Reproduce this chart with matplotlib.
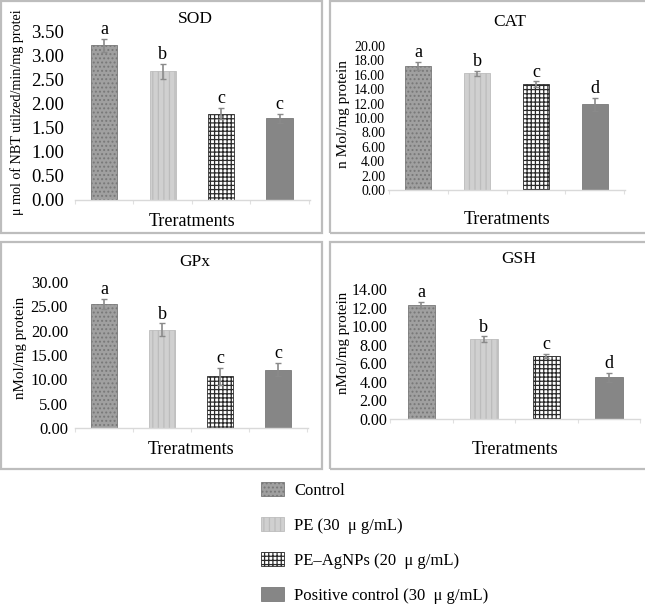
import matplotlib
matplotlib.use("Agg")
import matplotlib.pyplot as plt
from matplotlib.patches import Patch, Rectangle

plt.rcParams['font.family'] = ['Liberation Serif', 'DejaVu Serif']
plt.rcParams['hatch.linewidth'] = 0.9

treatments = ["Control", "PE (30  \u03bc g/mL)", "PE\u2013AgNPs (20  \u03bc g/mL)",
              "Positive control (30  \u03bc g/mL)"]

sod = [3.22, 2.68, 1.80, 1.70]
sod_err = [0.13, 0.16, 0.12, 0.09]
sod_letters = ["a", "b", "c", "c"]

cat = [17.2, 16.2, 14.7, 11.9]
cat_err = [0.6, 0.3, 0.4, 0.9]
cat_letters = ["a", "b", "c", "d"]

gpx = [25.5, 20.2, 10.6, 12.0]
gpx_err = [1.0, 1.3, 1.8, 1.4]
gpx_letters = ["a", "b", "c", "c"]

gsh = [12.3, 8.6, 6.8, 4.5]
gsh_err = [0.3, 0.3, 0.2, 0.5]
gsh_letters = ["a", "b", "c", "d"]

W, H = 645, 608
fig = plt.figure(figsize=(W / 100, H / 100), dpi=100)

face = ['#a0a0a0', '#d0d0d0', '#ffffff', '#868686']
edge = ['#787878', '#bcbcbc', '#2a2a2a', '#7a7a7a']
hatch = ['....', '|||', '++++', '']


def px_axes(l, t, r, b):
    return fig.add_axes([l / W, 1 - b / H, (r - l) / W, (b - t) / H])


def frame(l, t, r, b):
    fig.patches.append(Rectangle((l / W, 1 - b / H), (r - l) / W, (b - t) / H,
                                 transform=fig.transFigure, fill=False,
                                 edgecolor='#bdbdbd', linewidth=1.6))


frame(1, 1, 322, 233)
frame(330, 1, 648, 233)
frame(1, 242, 322, 469)
frame(330, 242, 648, 469)


def panel(rect, vals, errs, letters, title, ylabel, ymax, step, xlim, width,
          tickfs, tickpad, labfs, ylab_x, ylab_y, title_y, xlab_y, letfs,
          fmt="{:.2f}"):
    ax = px_axes(*rect)
    x = list(range(len(vals)))
    for i in x:
        ax.bar(i, vals[i], width=width, color=face[i], edgecolor=edge[i],
               hatch=hatch[i], linewidth=0.6, zorder=2)
    ax.errorbar(x, vals, yerr=errs, fmt='none', ecolor='#8a8a8a',
                elinewidth=1.2, capsize=2, capthick=1, zorder=3)
    for i in x:
        ax.text(i, vals[i] + errs[i] + ymax * 0.005, letters[i], ha='center',
                va='bottom', fontsize=letfs)
    ax.set_xlim(*xlim)
    ax.set_ylim(0, ymax)
    ticks = [step * k for k in range(int(round(ymax / step)) + 1)]
    ax.set_yticks(ticks)
    ax.set_yticklabels([fmt.format(t) for t in ticks], fontsize=tickfs)
    ax.tick_params(axis='y', length=0, pad=tickpad)
    ax.set_xticks([-0.5, 0.5, 1.5, 2.5, 3.5])
    ax.set_xticklabels([])
    ax.tick_params(axis='x', length=3, color='#e0e0e0')
    for s in ['top', 'right', 'left']:
        ax.spines[s].set_visible(False)
    ax.spines['bottom'].set_color('#d9d9d9')
    ax.spines['bottom'].set_linewidth(1.0)
    ax.patch.set_alpha(0)
    l, t, r, b = rect
    fig.text((l + r) / 2 / W + 0.005, 1 - title_y / H, title, ha='center',
             va='center', fontsize=12.5)
    fig.text((l + r) / 2 / W, 1 - xlab_y / H, "Treratments", ha='center',
             va='center', fontsize=13)
    fig.text(ylab_x / W, 1 - ylab_y / H, ylabel, ha='center',
             va='center', rotation=90, fontsize=labfs)
    return ax


panel((75, 32, 310, 200), sod, sod_err, sod_letters, "SOD",
      "\u03bc mol of NBT utilzed/min/mg protei", 3.5, 0.5, (-0.38, 3.52), 0.45,
      13.5, 8, 10.2, 17, 112, 19, 221, 13)
panel((388, 46, 625, 190), cat, cat_err, cat_letters, "CAT",
      "n Mol/mg protein", 20, 2, (-0.51, 3.51), 0.43,
      10, 2, 11, 343, 114, 22, 219, 13)
panel((75, 282, 308, 428), gpx, gpx_err, gpx_letters, "GPx",
      "nMol/mg protein", 30, 5, (-0.44, 3.51), 0.45,
      12, 5, 10.8, 21, 348, 262, 450, 13)
panel((390, 289, 640, 419), gsh, gsh_err, gsh_letters, "GSH",
      "nMol/mg protein", 14, 2, (-0.5, 3.42), 0.44,
      11.5, 2, 10.8, 344, 343, 259, 450, 13)

handles = [Patch(facecolor=face[i], edgecolor=edge[i], hatch=hatch[i],
                 linewidth=0.6, label=treatments[i]) for i in range(4)]
fig.legend(handles=handles, loc='upper left',
           bbox_to_anchor=(261 / W, 1 - 482 / H), frameon=False,
           fontsize=12, handlelength=1.38, handleheight=0.95,
           handletextpad=0.6, labelspacing=1.08, borderpad=0,
           borderaxespad=0)

fig.savefig("out.png", dpi=100)
